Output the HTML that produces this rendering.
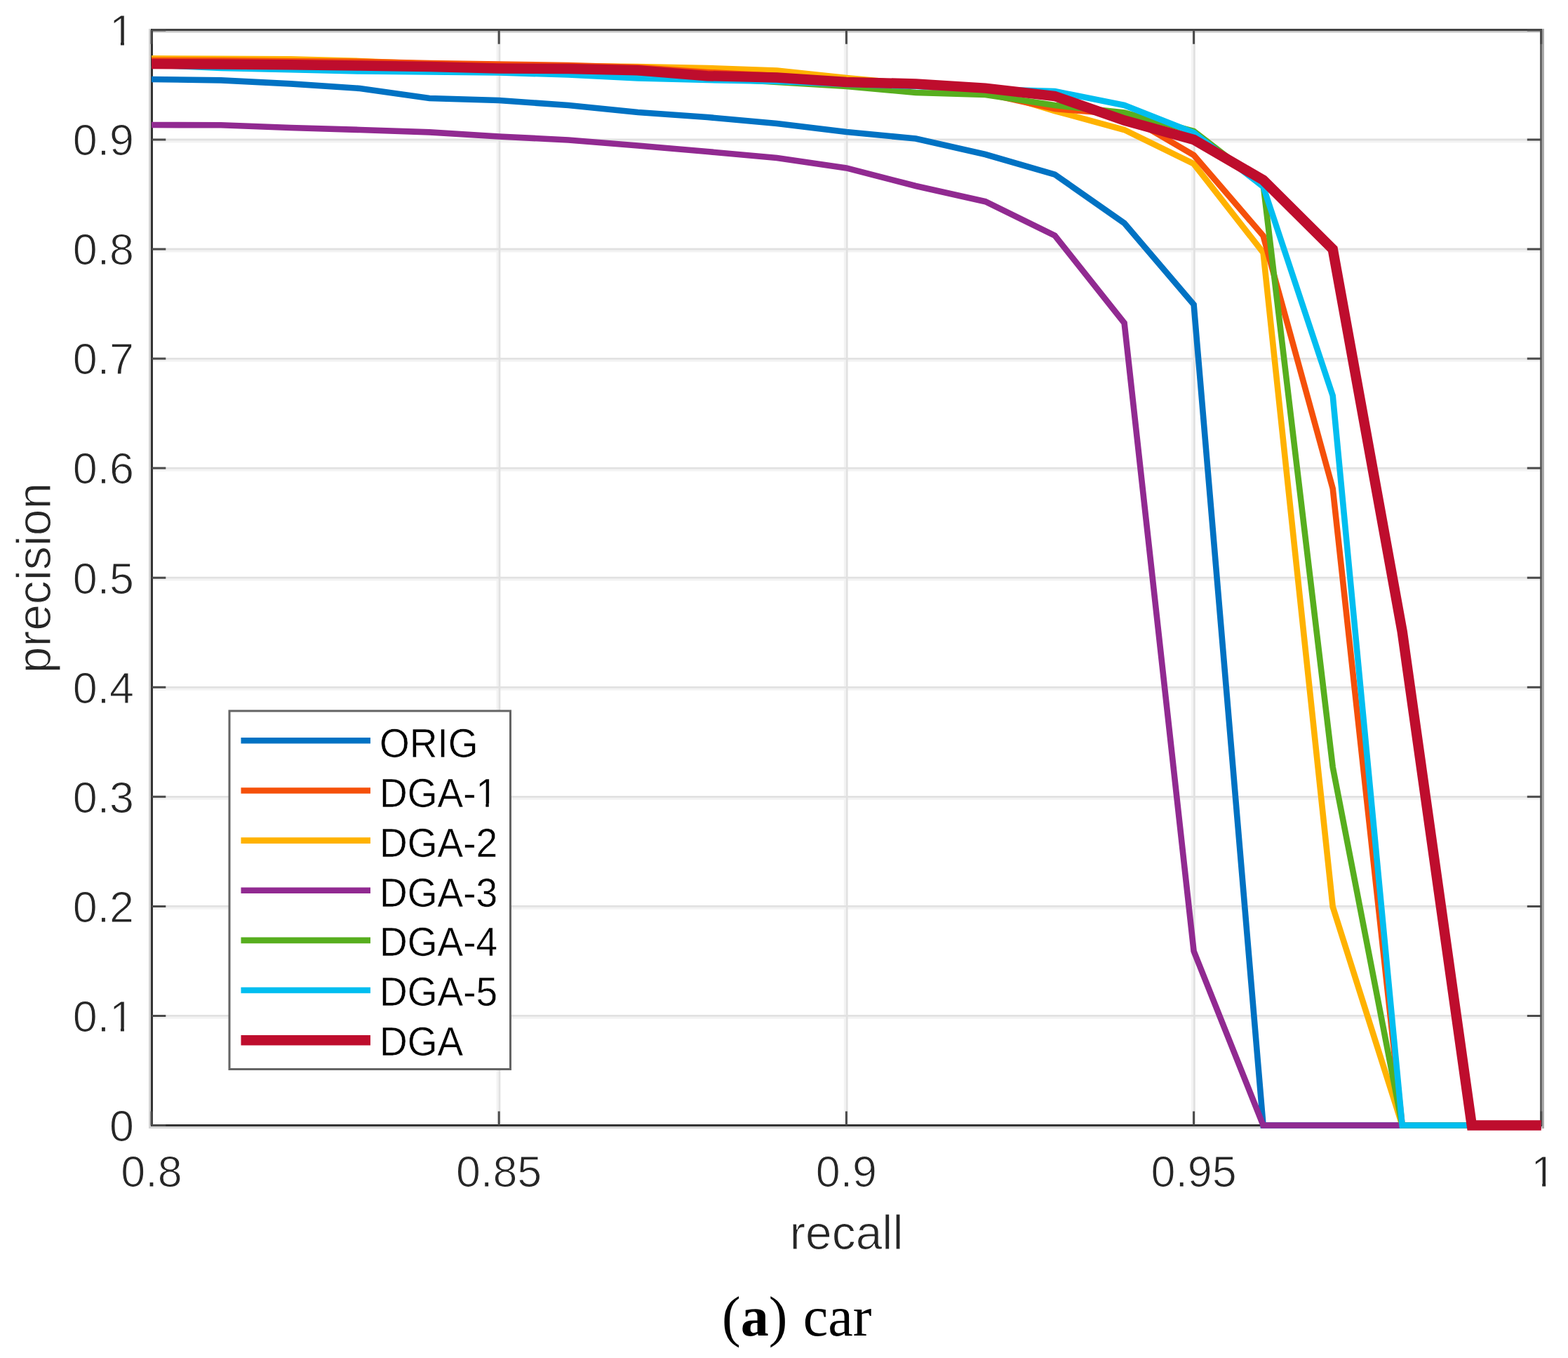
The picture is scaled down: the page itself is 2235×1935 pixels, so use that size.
<!DOCTYPE html>
<html><head><meta charset="utf-8"><title>precision-recall (a) car</title>
<style>html,body{margin:0;padding:0;background:#fff;}body{width:2235px;height:1935px;overflow:hidden;}svg{display:block;}</style>
</head><body>
<svg width="2235" height="1935" viewBox="0 0 2235 1935">
<rect x="0" y="0" width="2235" height="1935" fill="#ffffff"/>
<path d="M216.3 1450.3H2196.8M216.3 1294.3H2196.8M216.3 1138.2H2196.8M216.3 982.2H2196.8M216.3 826.1H2196.8M216.3 670.0H2196.8M216.3 514.0H2196.8M216.3 357.9H2196.8M216.3 201.9H2196.8M709.1 42.7V1603.5M1204.3 42.7V1603.5M1699.5 42.7V1603.5" stroke="#f3f3f3" stroke-width="3" fill="none"/>
<path d="M216.3 1447.4H2196.8M216.3 1291.4H2196.8M216.3 1135.3H2196.8M216.3 979.3H2196.8M216.3 823.2H2196.8M216.3 667.1H2196.8M216.3 511.1H2196.8M216.3 355.0H2196.8M216.3 199.0H2196.8M712.0 42.7V1603.5M1207.2 42.7V1603.5M1702.4 42.7V1603.5" stroke="#e1e1e1" stroke-width="2.8" fill="none"/>
<rect x="212" y="41" width="3" height="1567" fill="#d4d4d4"/>
<rect x="215" y="1605" width="1986" height="3" fill="#d6d6d6"/>
<rect x="218" y="44" width="1977" height="2.5" fill="#c8c8c8"/>
<rect x="2198" y="41" width="3" height="1567" fill="#aaaaaa"/>
<rect x="2195" y="41" width="3" height="1564" fill="#666666"/>
<rect x="215" y="41" width="1983" height="3" fill="#444444"/>
<rect x="215" y="41" width="3" height="1564" fill="#333333"/>
<rect x="215" y="1602" width="1983" height="3" fill="#333333"/>
<path d="M216.3 1603.5h20M2196.8 1603.5h-20M216.3 1447.4h20M2196.8 1447.4h-20M216.3 1291.4h20M2196.8 1291.4h-20M216.3 1135.3h20M2196.8 1135.3h-20M216.3 979.3h20M2196.8 979.3h-20M216.3 823.2h20M2196.8 823.2h-20M216.3 667.1h20M2196.8 667.1h-20M216.3 511.1h20M2196.8 511.1h-20M216.3 355.0h20M2196.8 355.0h-20M216.3 199.0h20M2196.8 199.0h-20M216.3 42.9h20M2196.8 42.9h-20M216.0 1603.5v-20M216.0 42.7v20M711.2 1603.5v-20M711.2 42.7v20M1206.4 1603.5v-20M1206.4 42.7v20M1701.6 1603.5v-20M1701.6 42.7v20M2196.8 1603.5v-20M2196.8 42.7v20" stroke="#4a4a4a" stroke-width="3" fill="none"/>
<polyline points="216.0,113.0 315.0,114.4 414.1,119.4 513.1,126.0 612.2,140.0 711.2,143.0 810.2,150.0 909.3,160.0 1008.3,167.0 1107.4,176.0 1206.4,188.0 1305.4,197.5 1404.5,220.0 1503.5,248.6 1602.6,318.0 1701.6,434.0 1800.6,1603.5 1899.7,1603.5 1998.7,1603.5 2097.8,1603.5 2196.8,1603.5" fill="none" stroke="#0072C3" stroke-width="8.6" stroke-linejoin="miter" stroke-miterlimit="6" stroke-linecap="butt"/>
<polyline points="216.0,83.3 315.0,83.8 414.1,84.3 513.1,87.0 612.2,91.0 711.2,93.0 810.2,94.0 909.3,95.0 1008.3,97.0 1107.4,100.5 1206.4,111.0 1305.4,120.0 1404.5,128.0 1503.5,158.0 1602.6,185.0 1701.6,233.5 1800.6,360.0 1899.7,1292.0 1998.7,1603.5 2097.8,1603.5 2196.8,1603.5" fill="none" stroke="#FFB200" stroke-width="8.6" stroke-linejoin="miter" stroke-miterlimit="6" stroke-linecap="butt"/>
<polyline points="216.0,86.0 315.0,86.4 414.1,87.2 513.1,87.9 612.2,90.0 711.2,91.5 810.2,93.0 909.3,96.0 1008.3,103.0 1107.4,108.0 1206.4,115.0 1305.4,122.0 1404.5,133.0 1503.5,155.0 1602.6,163.0 1701.6,221.0 1800.6,336.0 1899.7,696.0 1998.7,1603.5 2097.8,1603.5 2196.8,1603.5" fill="none" stroke="#F5500A" stroke-width="8.6" stroke-linejoin="miter" stroke-miterlimit="6" stroke-linecap="butt"/>
<polyline points="216.0,178.0 315.0,178.2 414.1,182.0 513.1,185.0 612.2,188.4 711.2,194.5 810.2,199.5 909.3,207.5 1008.3,216.0 1107.4,225.0 1206.4,239.4 1305.4,265.0 1404.5,287.2 1503.5,335.6 1602.6,460.3 1701.6,1355.3 1800.6,1603.5 1899.7,1603.5 1998.7,1603.5 2097.8,1603.5 2196.8,1603.5" fill="none" stroke="#912A91" stroke-width="8.6" stroke-linejoin="miter" stroke-miterlimit="6" stroke-linecap="butt"/>
<polyline points="216.0,93.0 315.0,94.0 414.1,95.0 513.1,96.0 612.2,97.0 711.2,99.0 810.2,101.0 909.3,105.0 1008.3,111.0 1107.4,117.0 1206.4,123.0 1305.4,132.0 1404.5,135.0 1503.5,150.0 1602.6,160.5 1701.6,187.0 1800.6,263.0 1899.7,1093.0 1998.7,1603.5 2097.8,1603.5 2196.8,1603.5" fill="none" stroke="#57AE1E" stroke-width="8.6" stroke-linejoin="miter" stroke-miterlimit="6" stroke-linecap="butt"/>
<polyline points="216.0,92.5 315.0,97.0 414.1,99.3 513.1,101.5 612.2,102.5 711.2,103.5 810.2,106.5 909.3,111.5 1008.3,114.0 1107.4,116.0 1206.4,120.0 1305.4,123.0 1404.5,127.0 1503.5,130.0 1602.6,150.0 1701.6,189.0 1800.6,266.0 1899.7,564.0 1998.7,1603.5 2097.8,1603.5 2196.8,1603.5" fill="none" stroke="#00BEF0" stroke-width="8.6" stroke-linejoin="miter" stroke-miterlimit="6" stroke-linecap="butt"/>
<polyline points="216.0,91.0 315.0,91.5 414.1,92.3 513.1,93.6 612.2,95.0 711.2,97.5 810.2,98.0 909.3,100.3 1008.3,108.2 1107.4,110.4 1206.4,117.0 1305.4,119.5 1404.5,125.6 1503.5,137.0 1602.6,171.5 1701.6,199.0 1800.6,256.5 1899.7,355.0 1998.7,900.0 2097.8,1603.5 2196.8,1603.5" fill="none" stroke="#BE0D2D" stroke-width="14.5" stroke-linejoin="miter" stroke-miterlimit="6" stroke-linecap="butt"/>
<g font-family="'Liberation Sans', Arial, Helvetica, sans-serif" font-size="62.8" fill="#262626" stroke="#ffffff" stroke-width="1.1">
<text x="191" y="1625.8" text-anchor="end">0</text>
<text x="191" y="1469.7" text-anchor="end">0.1</text>
<text x="191" y="1313.7" text-anchor="end">0.2</text>
<text x="191" y="1157.6" text-anchor="end">0.3</text>
<text x="191" y="1001.6" text-anchor="end">0.4</text>
<text x="191" y="845.5" text-anchor="end">0.5</text>
<text x="191" y="689.4" text-anchor="end">0.6</text>
<text x="191" y="533.4" text-anchor="end">0.7</text>
<text x="191" y="377.3" text-anchor="end">0.8</text>
<text x="191" y="221.3" text-anchor="end">0.9</text>
<text x="191" y="65.2" text-anchor="end">1</text>
<text x="216.0" y="1690.5" text-anchor="middle">0.8</text>
<text x="711.2" y="1690.5" text-anchor="middle">0.85</text>
<text x="1206.4" y="1690.5" text-anchor="middle">0.9</text>
<text x="1701.6" y="1690.5" text-anchor="middle">0.95</text>
<text x="2199.8" y="1690.5" text-anchor="middle">1</text>
</g>
<path d="M159.20 59.42H171.95V67.08H159.20ZM176.91 59.42H189.34V67.08H176.91Z" fill="#fff"/>
<path d="M159.20 1463.96H171.95V1471.62H159.20ZM176.91 1463.96H189.34V1471.62H176.91Z" fill="#fff"/>
<path d="M2185.48 1684.72H2198.23V1692.38H2185.48ZM2203.19 1684.72H2215.63V1692.38H2203.19Z" fill="#fff"/>
<text x="1206.5" y="1779.5" text-anchor="middle" font-family="'Liberation Sans', Arial, sans-serif" font-size="67.8" fill="#262626" stroke="#fff" stroke-width="1.1">recall</text>
<text transform="translate(72.3 823.5) rotate(-90)" x="0" y="0" text-anchor="middle" font-family="'Liberation Sans', Arial, sans-serif" font-size="67.8" fill="#262626" stroke="#fff" stroke-width="1.1">precision</text>
<rect x="327" y="1013" width="400.5" height="510.5" fill="#ffffff" stroke="#646464" stroke-width="3"/>
<g font-family="'Liberation Sans', Arial, Helvetica, sans-serif" font-size="58.2" fill="#000000" stroke="#fff" stroke-width="0.5">
<line x1="343.5" y1="1055.3" x2="528" y2="1055.3" stroke="#0072C3" stroke-width="8.6"/>
<text transform="translate(541 1079.2) scale(0.945 1)">ORIG</text>
<line x1="343.5" y1="1126.5" x2="528" y2="1126.5" stroke="#F5500A" stroke-width="8.6"/>
<text transform="translate(541 1150.0) scale(0.945 1)">DGA-1</text>
<g transform="translate(541 1150.0) scale(0.945 1)"><path d="M148.37 -5.35H160.18V1.75H148.37ZM164.78 -5.35H176.31V1.75H164.78Z" fill="#fff" stroke="none"/></g>
<line x1="343.5" y1="1197.6" x2="528" y2="1197.6" stroke="#FFB200" stroke-width="8.6"/>
<text transform="translate(541 1220.7) scale(0.945 1)">DGA-2</text>
<line x1="343.5" y1="1268.8" x2="528" y2="1268.8" stroke="#912A91" stroke-width="8.6"/>
<text transform="translate(541 1291.5) scale(0.945 1)">DGA-3</text>
<line x1="343.5" y1="1339.9" x2="528" y2="1339.9" stroke="#57AE1E" stroke-width="8.6"/>
<text transform="translate(541 1362.2) scale(0.945 1)">DGA-4</text>
<line x1="343.5" y1="1411.0" x2="528" y2="1411.0" stroke="#00BEF0" stroke-width="8.6"/>
<text transform="translate(541 1433.0) scale(0.945 1)">DGA-5</text>
<line x1="343.5" y1="1482.2" x2="528" y2="1482.2" stroke="#BE0D2D" stroke-width="14.5"/>
<text transform="translate(541 1503.7) scale(0.945 1)">DGA</text>
</g>
<text x="1029" y="1902.5" font-family="'Liberation Serif', 'Times New Roman', serif" font-size="80" fill="#000">(<tspan font-weight="bold">a</tspan>)<tspan dx="2.5"> car</tspan></text>
</svg>
</body></html>
